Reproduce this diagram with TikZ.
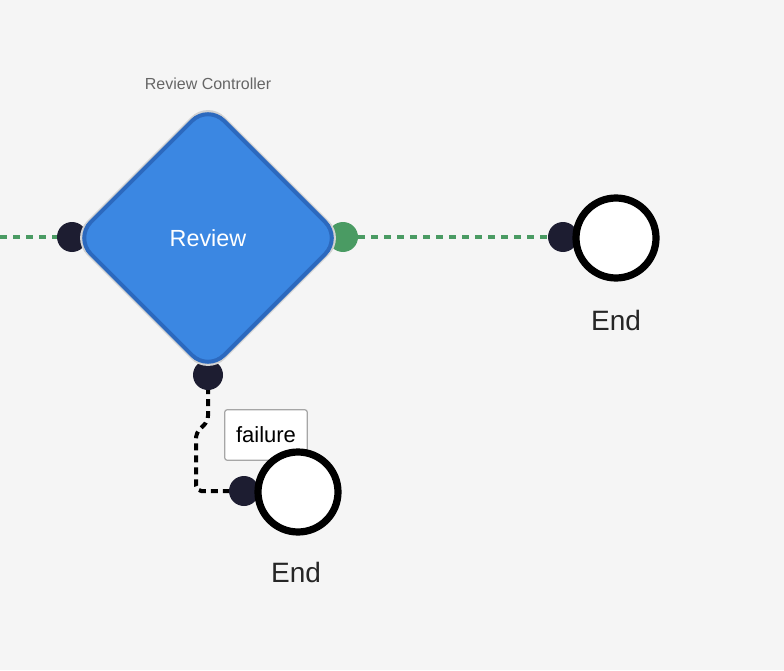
\documentclass[tikz,border=0pt]{standalone}
\usepackage{fontspec}
\setmainfont{Liberation Sans}
\usetikzlibrary{
  positioning,
  shapes.geometric,
  backgrounds
}
\definecolor{canvas}{HTML}{F5F5F5}
\definecolor{revblue}{HTML}{3B87E2}
\definecolor{revedge}{HTML}{2C69BE}
\definecolor{portdark}{HTML}{1D1D31}
\definecolor{okgreen}{HTML}{4A9B63}
\definecolor{caption}{HTML}{666666}

\begin{document}
\begin{tikzpicture}[
  x=0.75pt, y=-0.75pt,
  gate/.style={diamond, aspect=1, inner sep=0pt, minimum size=201pt, rounded corners=17pt,
    fill=revblue, draw=revedge, line width=3pt, text=white, font=\fontsize{17.5}{20}\selectfont},
  halo/.style={diamond, aspect=1, inner sep=0pt, minimum size=207pt, rounded corners=18pt,
    fill=gray!35},
  port/.style={circle, inner sep=0pt, minimum size=22.5pt, fill=portdark},
  okport/.style={port, fill=okgreen},
  endnd/.style={circle, inner sep=0pt, minimum size=60pt, fill=white, draw=black, line width=5.4pt},
  endlbl/.style={font=\fontsize{21}{24}\selectfont, text=black!85},
  tag/.style={draw=gray!70, fill=white, rounded corners=2pt, line width=0.9pt, inner sep=0pt,
    minimum width=62pt, minimum height=38pt, font=\fontsize{16.5}{19}\selectfont},
  okline/.style={okgreen, line width=3pt, dash pattern=on 5.25pt off 4.5pt},
  failline/.style={black, line width=3pt, dash pattern=on 5.25pt off 3.75pt, rounded corners=4pt},
]
  \useasboundingbox (0,0) rectangle (784,670);

  % ports sit behind the gate
  \node[port] (revin) at (72,237) {};
  \node[okport] (revok) at (343,237) {};
  \node[port] (revfail) at (208,375) {};

  % Review gate
  \node[halo] (revhalo) at (208,238) {};
  \node[gate] (review) at (208,238) {Review};
  \node[font=\fontsize{12}{14}\selectfont, text=caption] (revtitle) at (208,84) {Review Controller};

  % failure label, under the end circle
  \node[tag] (failtag) at (266,435) {failure};

  % End states
  \node[port] (endain) at (563,237) {};
  \node[endnd] (enda) at (616,238) {};
  \node[endlbl] (endalbl) at (616,320) {End};

  \node[port] (endbin) at (244,491) {};
  \node[endnd] (endb) at (298,492) {};
  \node[endlbl] (endblbl) at (296,572) {End};

  % connectors
  \coordinate (west) at (0,237);
  \coordinate (bendtop) at (208,421);
  \coordinate (bendmid) at (196,433);
  \begin{scope}[on background layer]
    \fill[canvas] (0,0) rectangle (784,670);
    \draw[okline] (west) -- (revin);
    \draw[okline] (revok) -- (endain);
    \draw[failline] (revfail.center) -- (bendtop) -- (bendmid) |- (endbin.center);
  \end{scope}
\end{tikzpicture}
\end{document}
